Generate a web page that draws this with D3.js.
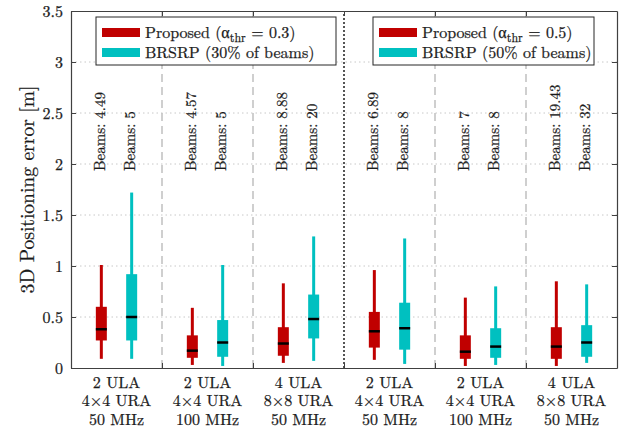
<!DOCTYPE html>
<html><head><meta charset="utf-8">
<script src="https://cdn.jsdelivr.net/npm/d3@7"></script>
<style>
body{margin:0;background:#fff}
svg{display:block}
</style>
</head><body>
<svg id="chart" width="630" height="428"></svg>
<script>
// ---- data ----
const configLabels = [
  ["2 ULA","4×4 URA","50 MHz"],
  ["2 ULA","4×4 URA","100 MHz"],
  ["4 ULA","8×8 URA","50 MHz"],
  ["2 ULA","4×4 URA","50 MHz"],
  ["2 ULA","4×4 URA","100 MHz"],
  ["4 ULA","8×8 URA","50 MHz"]
];
// [whisker low, q1, median, q3, whisker high]
const proposedBoxes = [
  [0.09, 0.27, 0.38, 0.60, 1.01],
  [0.03, 0.10, 0.17, 0.32, 0.59],
  [0.05, 0.12, 0.24, 0.40, 0.83],
  [0.08, 0.20, 0.36, 0.55, 0.96],
  [0.02, 0.09, 0.16, 0.32, 0.69],
  [0.02, 0.09, 0.21, 0.40, 0.85]
];
const brsrpBoxes = [
  [0.09, 0.27, 0.50, 0.92, 1.72],
  [0.02, 0.11, 0.25, 0.47, 1.01],
  [0.07, 0.29, 0.48, 0.72, 1.29],
  [0.04, 0.18, 0.39, 0.64, 1.27],
  [0.03, 0.10, 0.21, 0.39, 0.80],
  [0.05, 0.11, 0.25, 0.42, 0.82]
];
const proposedBeams = ["4.49","4.57","8.88","6.89","7","19.43"];
const brsrpBeams = ["5","5","20","8","8","32"];
const yTicks = [0,0.5,1,1.5,2,2.5,3,3.5];
const separators = [3,6,9,12,15];
const legendLeft = [["Proposed (α","thr"," = 0.3)"],["BRSRP (30% of beams)"]];
const legendRight = [["Proposed (α","thr"," = 0.5)"],["BRSRP (50% of beams)"]];
const colors = {proposed:"#c00000", brsrp:"#00c0c0"};
const FONT = "Latin Modern Roman";
const INK = "#1a1a1a";

// ---- scales ----
const svg = d3.select("#chart");
const x = d3.scaleLinear().domain([0,18]).range([71,617]);
const y = d3.scaleLinear().domain([0,3.5]).range([368,11]);

function ink(sel){ return sel.attr("fill",INK).attr("stroke",INK).attr("stroke-width",0.25); }

// grid
svg.append("g").selectAll("line").data(yTicks.slice(1,-1)).join("line")
  .attr("x1",x(0)).attr("x2",x(18)).attr("y1",d=>y(d)).attr("y2",d=>y(d))
  .attr("stroke","#c8c8c8").attr("stroke-width",1).attr("stroke-dasharray","1.5,3");
svg.append("g").selectAll("line").data(separators).join("line")
  .attr("x1",d=>x(d)).attr("x2",d=>x(d)).attr("y1",y(0)).attr("y2",y(3.5))
  .attr("stroke",d=>d===9?"#555":"#c4c4c4")
  .attr("stroke-width",d=>d===9?2:1.6)
  .attr("stroke-dasharray",d=>d===9?"2,2":"8,5");

// axes
function styleAxis(g){
  g.attr("font-family",null).attr("font-size",null);
  g.selectAll("path").attr("stroke","#404040").attr("stroke-width",1.2);
  g.selectAll("line").attr("stroke","#404040");
  g.selectAll("text").style("font-family",FONT).attr("font-size",16).call(ink);
}
svg.append("g").attr("transform",`translate(${x(0)},0)`)
  .call(d3.axisLeft(y).tickValues(yTicks).tickSizeInner(-5).tickSizeOuter(0).tickPadding(8).tickFormat(d=>String(d)))
  .call(styleAxis);
svg.append("g").attr("transform",`translate(${x(18)},0)`)
  .call(d3.axisRight(y).tickValues(yTicks).tickSizeInner(-5).tickSizeOuter(0).tickFormat(""))
  .call(styleAxis);
svg.append("g").attr("transform",`translate(0,${y(0)})`)
  .call(d3.axisBottom(x).tickValues(separators).tickSizeInner(-5).tickSizeOuter(0).tickFormat(""))
  .call(styleAxis);
svg.append("g").attr("transform",`translate(0,${y(3.5)})`)
  .call(d3.axisTop(x).tickValues(separators).tickSizeInner(-5).tickSizeOuter(0).tickFormat(""))
  .call(styleAxis);

// x labels
configLabels.forEach((lines,g)=>{
  lines.forEach((l,i)=>{
    svg.append("text").attr("text-anchor","middle").style("font-family",FONT).attr("font-size",16)
      .attr("x",x(1.5+3*g)).attr("y",387.5+i*18.5).call(ink).text(l);
  });
});

// y label
svg.append("text").attr("transform",`translate(30,${(y(0)+y(3.5))/2}) rotate(-90)`)
  .attr("text-anchor","middle").attr("dominant-baseline","middle").style("font-family",FONT)
  .attr("font-size",19.5).call(ink)
  .text("3D Positioning error [m]");

// boxes
function drawBoxes(data,offset,color){
  const gs = svg.append("g").selectAll("g").data(data).join("g")
    .attr("transform",(d,i)=>`translate(${x(3*i+offset)},0)`);
  gs.append("line").attr("y1",d=>y(d[0])).attr("y2",d=>y(d[4]))
    .attr("stroke",color).attr("stroke-width",3);
  gs.append("rect").attr("x",-5.5).attr("width",11)
    .attr("y",d=>y(d[3])).attr("height",d=>y(d[1])-y(d[3])).attr("fill",color);
  gs.append("line").attr("x1",-5.5).attr("x2",5.5).attr("y1",d=>y(d[2])).attr("y2",d=>y(d[2]))
    .attr("stroke","#000").attr("stroke-width",2.5);
}
drawBoxes(proposedBoxes,1,colors.proposed);
drawBoxes(brsrpBoxes,2,colors.brsrp);

// beams labels
function drawBeams(labels,offset){
  labels.forEach((b,i)=>{
    svg.append("text").attr("transform",`translate(${x(3*i+offset)},171) rotate(-90)`)
      .attr("dominant-baseline","middle").style("font-family",FONT).attr("font-size",15)
      .call(ink).text("Beams: "+b);
  });
}
drawBeams(proposedBeams,1);
drawBeams(brsrpBeams,2);

// legends
function legend(x0,y0,w,h,entries){
  const g = svg.append("g");
  g.append("rect").attr("x",x0).attr("y",y0).attr("width",w).attr("height",h)
    .attr("fill","#fff").attr("stroke","#262626").attr("stroke-width",1);
  const cols=[colors.proposed,colors.brsrp];
  entries.forEach((e,i)=>{
    const cy = y0+15.5+i*20;
    g.append("rect").attr("x",x0+6).attr("y",cy-4.5).attr("width",38).attr("height",9).attr("fill",cols[i]);
    const t = g.append("text").attr("x",x0+49).attr("y",cy+5.5).style("font-family",FONT)
      .attr("font-size",16).call(ink);
    if(e.length===3){
      t.append("tspan").text(e[0]);
      t.append("tspan").attr("dy",4).attr("font-size",12).text(e[1]);
      t.append("tspan").attr("dy",-4).text(e[2]);
    } else t.text(e[0]);
  });
}
legend(96,17,240,48,legendLeft);
legend(373,17,221,48,legendRight);
</script>
</body></html>
